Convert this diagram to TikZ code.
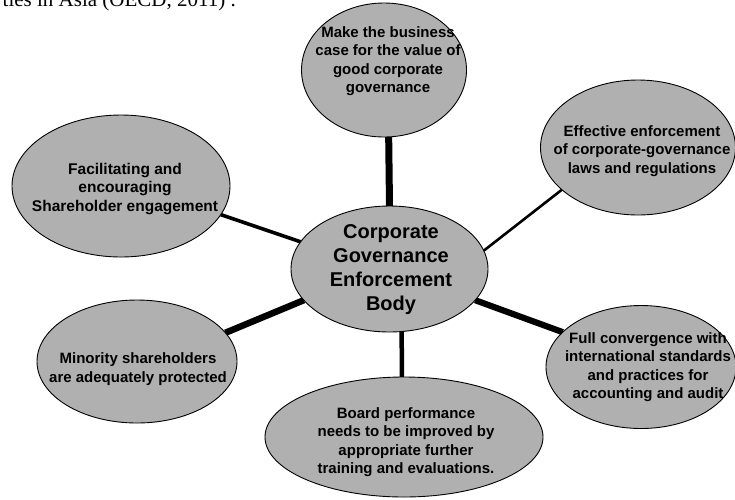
\documentclass[tikz,border=0pt]{standalone}
\usepackage{fontspec}
\setmainfont{Liberation Sans}
\newfontfamily\capfont{Liberation Serif}
\usetikzlibrary{shapes.geometric,backgrounds}
\tikzset{
  bubble/.style={ellipse, draw=black, line width=0.9pt, fill=black!31,
                 inner sep=0pt, outer sep=0pt},
  bubbletext/.style={align=center, inner sep=0pt,
                     font=\bfseries\fontsize{15}{18.5}\selectfont},
  hubtext/.style={align=center, inner sep=0pt,
                  font=\bfseries\fontsize{20}{24}\selectfont},
  spoke/.style={draw=black, line cap=butt},
}
\begin{document}
\begin{tikzpicture}[x=1pt,y=-1pt]
\useasboundingbox (0,0) rectangle (735,499);

% running text above the figure
\node[anchor=base east, inner sep=0pt,
      font=\capfont\fontsize{21}{24}\selectfont] (cap) at (236,6)
      {ties in Asia (OECD, 2011) .};

% ellipses
\node[bubble, minimum width=197pt, minimum height=126pt] (c)  at (389.5,269) {};
\node[bubble, minimum width=165pt, minimum height=134pt] (t)  at (384,70) {};
\node[bubble, minimum width=195pt, minimum height=135pt] (tr) at (638,147.5) {};
\node[bubble, minimum width=218pt, minimum height=142pt] (tl) at (121,186) {};
\node[bubble, minimum width=200pt, minimum height=123pt] (bl) at (137,361.5) {};
\node[bubble, minimum width=190pt, minimum height=123pt] (br) at (641,367) {};
\node[bubble, minimum width=278pt, minimum height=120pt] (b)  at (404,437) {};

% labels
\node[hubtext] (cT) at (391,270) {Corporate\\Governance\\Enforcement\\Body};
\node[bubbletext] (tT) at (388,61) {Make the business\\case for the value of\\good corporate\\governance};
\node[bubbletext] (trT) at (642,151) {Effective enforcement\\of corporate-governance\\laws and regulations};
\node[bubbletext, font=\bfseries\fontsize{15.5}{18.5}\selectfont] (tlT) at (125,189) {Facilitating and\\encouraging\\Shareholder engagement};
\node[bubbletext] (blT) at (138,369) {Minority shareholders\\are adequately protected};
\node[bubbletext] (brT) at (648,367) {Full convergence with\\international standards\\and practices for\\accounting and audit};
\node[bubbletext] (bT) at (406,442) {Board performance\\needs to be improved by\\appropriate further\\training and evaluations.};

% spokes behind the ellipses
\begin{scope}[on background layer]
  \draw[spoke, line width=7pt]   (c.90)    -- (t.274);
  \draw[spoke, line width=2.6pt] (c.11)    -- (tr.209.6);
  \draw[spoke, line width=3.6pt] (c.163.5) -- (tl.344);
  \draw[spoke, line width=6.5pt] (c.200)   -- (bl.18.3);
  \draw[spoke, line width=6.2pt] (c.340)   -- (br.156.6);
  \draw[spoke, line width=4.5pt] (c.281)   -- (b.92);
\end{scope}
\end{tikzpicture}
\end{document}
